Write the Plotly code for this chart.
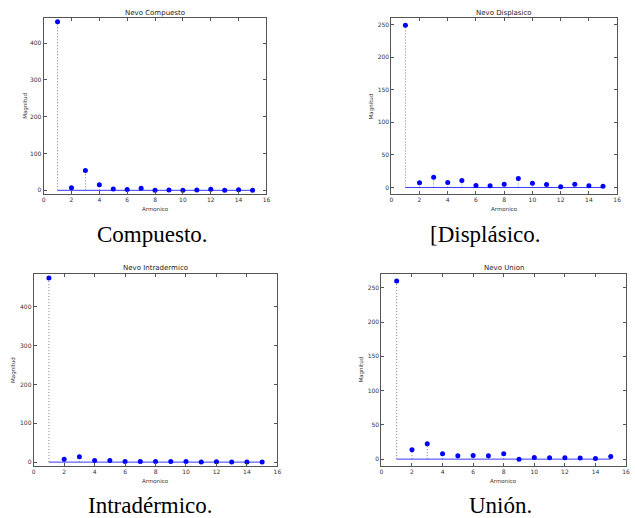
import plotly.graph_objects as go

W, H = 635, 518

harmonics = list(range(1, 16))
compuesto = [458, 7, 54, 15, 3.5, 2.5, 5.5, 0.5, 1, 0.5, 1, 3, 0.5, 1.5, 0]
displasico = [249, 7.1, 15.8, 7.7, 10.7, 3.1, 2.6, 5.1, 13.8, 6.6, 4.6, 1, 5.1, 2.6, 2]
intradermico = [475, 7.7, 13.8, 4.3, 4.3, 1.7, 1.7, 1.7, 1.7, 1.7, 0, 0.9, 0, 0, 0.5]
union = [259.7, 13.6, 22.3, 7.8, 4.8, 5.3, 4.8, 7.8, 0, 2.4, 1.9, 1.9, 1.5, 1, 3.9]

titles = ["Nevo Compuesto", "Nevo Displasico", "Nevo Intradermico", "Nevo Union"]
captions = ["Compuesto.", "[Displásico.", "Intradérmico.", "Unión."]
xlabel = "Armonico"
ylabel = "Magnitud"
series = [compuesto, displasico, intradermico, union]

# layout geometry (pixels): left, right, top, bottom of each axes box
boxes = [(42, 267, 18, 194), (393, 621, 18, 194), (32, 278, 274, 466), (383, 630, 274, 466)]
yranges = [(-10, 468), (-10, 260), (-10, 485), (-10, 270)]
ydticks = [100, 50, 100, 50]
ylabel_x = [23, 373, 11, 362]
title_y = [13, 13, 268, 268]
caption_pos = [(152, 234), (488, 234), (150, 505), (503, 505)]

fig = go.Figure()
TXT = "#333333"
LINE = "#555555"

for i, vals in enumerate(series):
    n = i + 1
    xa = "x" if n == 1 else f"x{n}"
    ya = "y" if n == 1 else f"y{n}"
    # stems
    sx, sy = [], []
    for h, v in zip(harmonics, vals):
        sx += [h, h, None]
        sy += [0, v, None]
    fig.add_trace(go.Scatter(x=sx, y=sy, mode="lines", xaxis=xa, yaxis=ya,
                             line=dict(color="#7a7a7a", width=1, dash="1px,2px"),
                             showlegend=False, hoverinfo="skip"))
    # baseline
    fig.add_trace(go.Scatter(x=[harmonics[0], harmonics[-1]], y=[0, 0], mode="lines",
                             xaxis=xa, yaxis=ya, line=dict(color="#3a3aff", width=1),
                             showlegend=False, hoverinfo="skip"))
    # markers
    fig.add_trace(go.Scatter(x=harmonics, y=vals, mode="markers", xaxis=xa, yaxis=ya,
                             marker=dict(color="#0000ff", size=5, line=dict(width=0)),
                             showlegend=False))

    l, r, t, b = boxes[i]
    axcommon = dict(showline=True, linecolor=LINE, linewidth=1, mirror="ticks",
                    ticks="inside", ticklen=3, tickcolor=LINE, showgrid=False,
                    zeroline=False, tickfont=dict(family="DejaVu Sans", size=6, color=TXT))
    fig.layout[("xaxis" if n == 1 else f"xaxis{n}")] = dict(
        domain=[l / W, r / W], anchor=ya, range=[0, 16], dtick=2, tick0=0, **axcommon)
    fig.layout[("yaxis" if n == 1 else f"yaxis{n}")] = dict(
        domain=[1 - b / H, 1 - t / H], anchor=xa, range=list(yranges[i]),
        dtick=ydticks[i], tick0=0, **axcommon)

    # title
    fig.add_annotation(text=titles[i], x=(l + r) / 2 / W, y=1 - title_y[i] / H,
                       xref="paper", yref="paper", xanchor="center", yanchor="middle",
                       showarrow=False, font=dict(family="DejaVu Sans", size=7, color="#222222"))
    # x label
    fig.add_annotation(text=xlabel, x=(l + r) / 2 / W, y=1 - (b + 10) / H,
                       xref="paper", yref="paper", xanchor="center", yanchor="top",
                       showarrow=False, font=dict(family="DejaVu Sans", size=5.5, color=TXT))
    # y label
    fig.add_annotation(text=ylabel, x=ylabel_x[i] / W, y=1 - (t + b) / 2 / H,
                       xref="paper", yref="paper", xanchor="center", yanchor="middle",
                       textangle=-90, showarrow=False,
                       font=dict(family="DejaVu Sans", size=5.5, color=TXT))
    # caption
    cx, cy = caption_pos[i]
    fig.add_annotation(text=captions[i], x=cx / W, y=1 - cy / H, xref="paper", yref="paper",
                       xanchor="center", yanchor="middle", showarrow=False,
                       font=dict(family="Liberation Serif", size=23, color="black"))

fig.update_layout(width=W, height=H, margin=dict(l=0, r=0, t=0, b=0),
                  paper_bgcolor="white", plot_bgcolor="white")
fig.write_html("out.html", config={"displayModeBar": False},
               post_script="document.body.style.margin='0';document.body.style.overflow='hidden';")
